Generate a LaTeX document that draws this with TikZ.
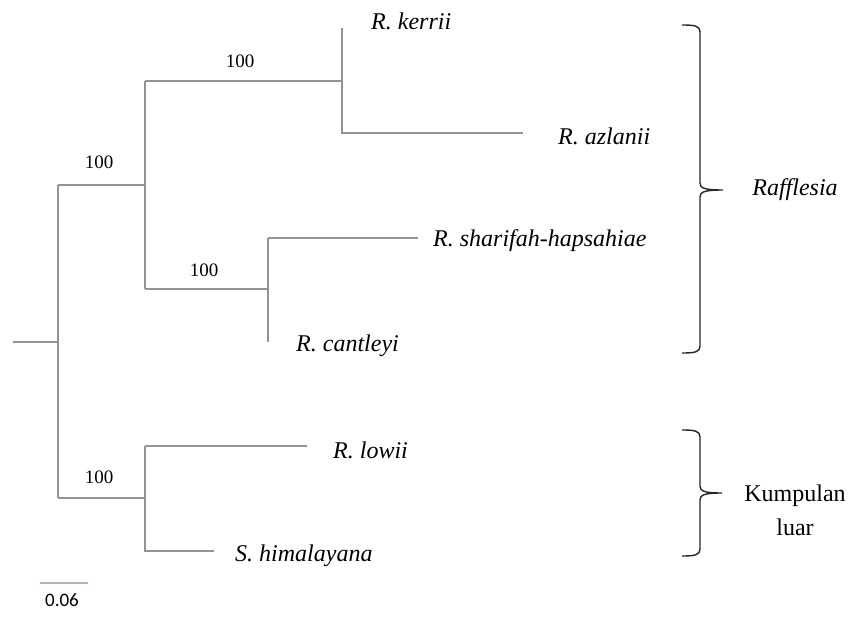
\documentclass[tikz,border=0pt]{standalone}
\usepackage{fontspec}
\setmainfont{Liberation Serif}
\newfontfamily\barlabelfont{Carlito}
\begin{document}
\begin{tikzpicture}[x=1pt,y=-1pt,
  branch/.style={draw=black!42,line width=1.3pt},
  bracket/.style={draw=black!85,line width=1.4pt},
  taxon/.style={anchor=base west,inner sep=0pt,font=\fontsize{24}{28}\selectfont\itshape},
  support/.style={inner sep=0pt,font=\fontsize{19}{22}\selectfont},
  grouplabel/.style={inner sep=0pt,font=\fontsize{24}{34}\selectfont,align=center}]
\useasboundingbox (0,0) rectangle (848,620);

% internal nodes of the tree
\coordinate (base) at (13,342);
\coordinate (root) at (58,342);
\coordinate (rafT) at (58,185);
\coordinate (raf) at (145,185);
\coordinate (kaT) at (145,81);
\coordinate (ka) at (342,81);
\coordinate (scB) at (145,289);
\coordinate (sc) at (268,289);
\coordinate (outB) at (58,498);
\coordinate (out) at (145,498);

% tips
\coordinate (tKerrii) at (342,28);
\coordinate (tAzlanii) at (523,133);
\coordinate (tSharifah) at (418,238);
\coordinate (tCantleyi) at (268,342);
\coordinate (tLowii) at (307,446);
\coordinate (tHima) at (214,551);

% branches
\draw[branch] (base) -- (root);
\draw[branch] (rafT) -- (outB);
\draw[branch] (rafT) -- (raf);
\draw[branch] (kaT) -- (scB);
\draw[branch] (kaT) -- (ka);
\draw[branch] (tKerrii) -- (ka |- tAzlanii) -- (tAzlanii);
\draw[branch] (scB) -- (sc);
\draw[branch] (sc |- tSharifah) -- (tSharifah);
\draw[branch] (sc |- tSharifah) -- (tCantleyi);
\draw[branch] (outB) -- (out);
\draw[branch] (out |- tLowii) -- (tLowii);
\draw[branch] (out |- tLowii) -- (out |- tHima) -- (tHima);

% taxon names
\node[taxon] (nKerrii) at (371,30) {R. kerrii};
\node[taxon] (nAzlanii) at (558,145) {R. azlanii};
\node[taxon] (nSharifah) at (433,247) {R. sharifah-hapsahiae};
\node[taxon] (nCantleyi) at (296,351) {R. cantleyi};
\node[taxon] (nLowii) at (333,458) {R. lowii};
\node[taxon] (nHima) at (235,561) {S. himalayana};

% bootstrap support values
\node[support] (bKA) at (240,61) {100};
\node[support] (bRaf) at (99,162) {100};
\node[support] (bSC) at (204,270) {100};
\node[support] (bOut) at (99,477) {100};

% group brackets
\draw[bracket] (682,25) .. controls (695,25) and (700,26) .. (700,32) -- (700,183)
  .. controls (700,188) and (704,190) .. (723,190)
  .. controls (704,190) and (700,192) .. (700,197) -- (700,346)
  .. controls (700,352) and (695,353) .. (682,353);
\node[grouplabel,font=\fontsize{24}{28}\selectfont\itshape] (gRaf) at (795,190) {Rafflesia};

\draw[bracket] (682,430) .. controls (695,430) and (700,431) .. (700,437) -- (700,486)
  .. controls (700,491) and (704,493) .. (722,493)
  .. controls (704,493) and (700,495) .. (700,500) -- (700,549)
  .. controls (700,555) and (695,556) .. (682,556);
\node[grouplabel] (gOut) at (795,510) {Kumpulan\\luar};

% scale bar
\coordinate (sbL) at (40,583);
\coordinate (sbR) at (88,583);
\draw[draw=blue!25!black!30,line width=1.3pt] (sbL) -- (sbR);
\node[inner sep=0pt,font=\barlabelfont\fontsize{19}{22}\selectfont] (sbText) at (62,600) {0.06};
\end{tikzpicture}
\end{document}
